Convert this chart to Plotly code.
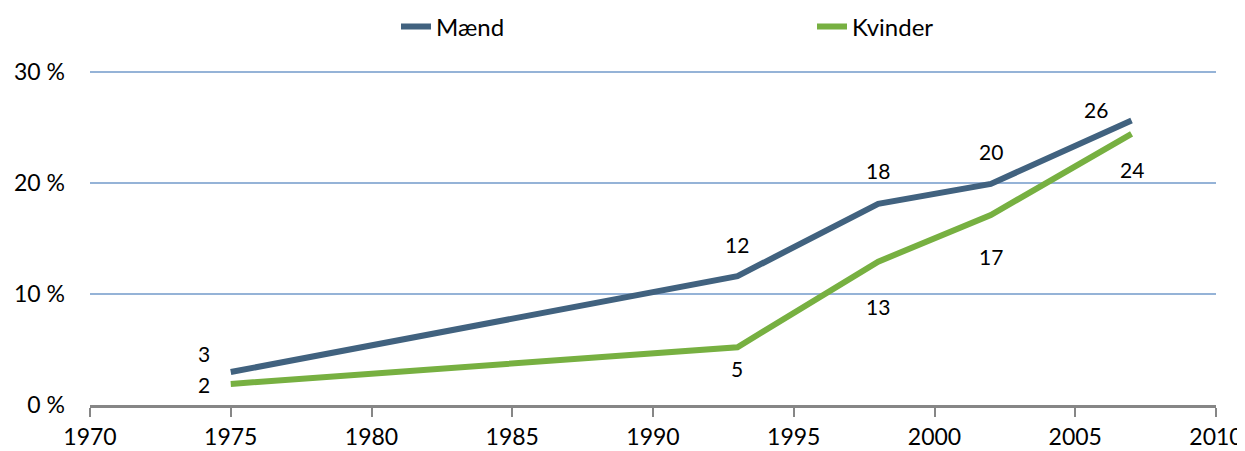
import plotly.graph_objects as go

years = [1975, 1993, 1998, 2002, 2007]
maend = [2.97, 11.6, 18.1, 19.9, 25.6]
kvinder = [1.9, 5.2, 12.9, 17.1, 24.4]
series_names = ["Mænd", "Kvinder"]
x_ticks = list(range(1970, 2011, 5))
y_ticks = [0, 10, 20, 30]

colors = ["#41627f", "#77b041"]
# label offsets (px) for data labels: (xshift, yshift)
maend_off = [(-27, 19), (0, 32), (0, 33), (0, 32), (-36, 11)]
kvinder_off = [(-27, -1), (0, -21), (0, -45), (0, -41), (0, -36)]

FONT = "Lato"
# page body has an 8px default margin, so the figure is drawn 8px smaller
W, H = 1237, 443
L, R, T, B = 82, 29, 62, 46
PW, PH = W - L - R, H - T - B

fig = go.Figure()
for name, vals, col in zip(series_names, [maend, kvinder], colors):
    fig.add_trace(go.Scatter(x=years, y=vals, mode="lines", name=name,
                             line=dict(color=col, width=6)))

for vals, offs in [(maend, maend_off), (kvinder, kvinder_off)]:
    for x, v, (dx, dy) in zip(years, vals, offs):
        fig.add_annotation(x=x, y=v, text=str(int(round(v))), showarrow=False,
                           xshift=dx, yshift=dy,
                           font=dict(family=FONT, size=21, color="#000000"))

fig.update_layout(
    width=W, height=H,
    margin=dict(l=L, r=R, t=T, b=B, autoexpand=False),
    paper_bgcolor="white", plot_bgcolor="white",
    font=dict(family=FONT, size=23, color="#000000"),
    showlegend=True,
    legend=dict(orientation="h", x=(396 - 90) / PW, xanchor="left",
                y=1 + 43 / PH, yanchor="middle",
                entrywidth=371, font=dict(size=24),
                bgcolor="rgba(0,0,0,0)"),
)
fig.update_xaxes(range=[1970, 2010], tickvals=x_ticks, showgrid=False,
                 showline=True, linecolor="#868686", linewidth=3,
                 ticks="outside", ticklen=9, tickwidth=2, tickcolor="#868686",
                 zeroline=False, fixedrange=True, automargin=False)
fig.update_yaxes(range=[0, 30.15], tickvals=y_ticks,
                 ticktext=[f"{v} %" for v in y_ticks],
                 showgrid=True, gridcolor="#95b3d7", gridwidth=2,
                 zeroline=False, showline=False, ticks="",
                 ticklabelstandoff=24, fixedrange=True, automargin=False)

fig.write_html("out.html")
